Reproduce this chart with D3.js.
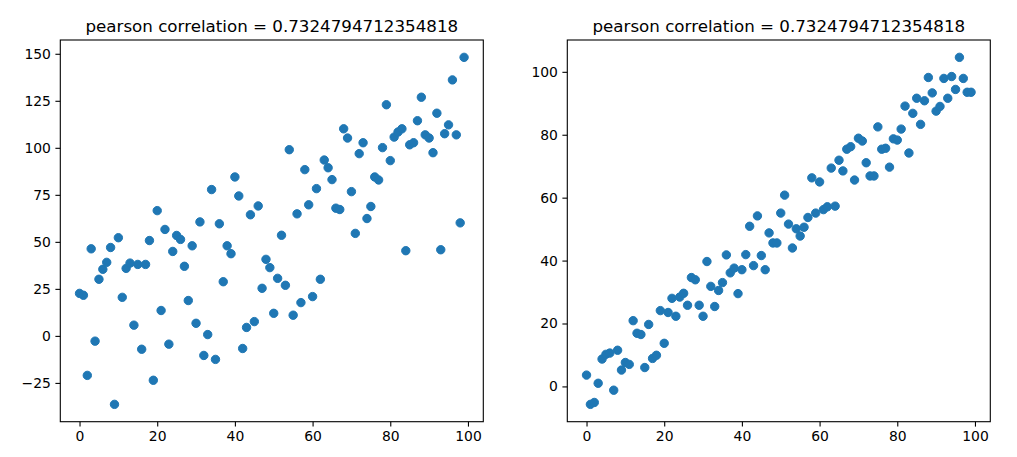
<!DOCTYPE html>
<html><head><meta charset="utf-8">
<script src="https://cdn.jsdelivr.net/npm/d3@7"></script>
<style>
html,body{margin:0;padding:0;background:#fff;}
svg text{font-family:"DejaVu Sans",sans-serif;fill:#000;}
</style></head>
<body><svg id="c" width="1017" height="457"></svg>
<script>
const xValues = d3.range(100);
const leftY = [22.6,21.6,-21.0,46.3,-2.8,30.1,35.4,39.1,47.0,-36.4,
52.2,20.5,35.9,38.7,5.7,38.0,-7.1,38.0,50.7,-23.6,
66.6,13.5,56.6,-4.4,44.9,53.4,51.3,37.0,18.8,47.9,
6.7,60.6,-10.4,0.7,77.8,-12.5,59.6,28.8,47.9,43.7,
84.5,74.4,-6.7,4.5,64.4,7.6,69.1,25.3,40.7,36.3,
12.0,30.6,53.5,26.9,99.0,11.0,64.9,17.7,88.4,69.7,
20.9,78.3,30.1,93.5,89.4,83.1,67.9,67.2,110.1,105.2,
76.7,54.5,96.9,102.7,62.4,68.8,84.5,82.9,100.1,122.9,
93.2,105.7,108.4,110.1,45.3,101.6,102.7,114.4,126.9,106.9,
105.2,97.4,118.4,45.8,107.5,112.2,136.1,106.9,60.1,148.1];
const rightY = [3.6,-5.7,-5.1,1.0,8.7,10.2,10.6,-1.2,11.5,5.2,
7.6,7.0,20.9,16.9,16.5,6.0,19.7,8.9,9.9,24.1,
13.7,23.5,28.0,22.3,28.4,29.6,25.8,34.6,33.9,25.8,
22.3,39.7,31.8,25.4,30.5,33.0,41.8,36.1,37.6,29.5,
37.1,41.9,50.9,38.4,54.2,41.6,37.1,48.8,45.6,45.6,
55.1,60.8,51.6,44.0,50.1,47.8,50.6,53.7,66.3,55.1,
65.0,56.2,57.1,69.4,57.3,71.9,68.5,75.4,76.2,65.6,
78.9,78.0,71.1,66.9,66.9,82.5,75.4,75.7,69.7,78.7,
78.3,81.8,89.1,74.2,86.8,91.6,83.3,90.8,98.2,93.3,
87.5,89.0,97.9,91.6,98.5,94.4,104.6,97.9,93.5,93.5];
const titles = ["pearson correlation = 0.7324794712354818","pearson correlation = 0.7324794712354818"];
const xTicks = [0,20,40,60,80,100];
const leftYTicks = [-25,0,25,50,75,100,125,150];
const rightYTicks = [0,20,40,60,80,100];

const svg = d3.select("#c");
const color = "#1f77b4";
const plotTop = 40, plotBottom = 421.7;
const fmt = v => (v < 0 ? "\u2212" + Math.abs(v) : String(v));

function pad(ext){ const r = ext[1]-ext[0]; return [ext[0]-0.05*r, ext[1]+0.05*r]; }

function panel(x0, x1, ys, yTicks, title){
  const g = svg.append("g");
  const x = d3.scaleLinear().domain(pad(d3.extent(xValues))).range([x0, x1]);
  const y = d3.scaleLinear().domain(pad(d3.extent(ys))).range([plotBottom, plotTop]);
  g.selectAll("circle").data(xValues).join("circle")
    .attr("cx", d => x(d)).attr("cy", (d,i) => y(ys[i]))
    .attr("r", 4.2).attr("fill", color).attr("stroke", color).attr("stroke-width", 1);
  const xa = g.append("g").attr("transform", `translate(0,${plotBottom})`)
    .call(d3.axisBottom(x).tickValues(xTicks).tickSize(4.9).tickPadding(4.5).tickFormat(fmt));
  const ya = g.append("g").attr("transform", `translate(${x0},0)`)
    .call(d3.axisLeft(y).tickValues(yTicks).tickSize(4.9).tickPadding(4.5).tickFormat(fmt));
  [xa, ya].forEach(a => {
    a.select(".domain").remove();
    a.selectAll("line").attr("stroke", "#000").attr("stroke-width", 1.1);
    a.selectAll("text").attr("font-size", "13.9px").attr("font-family", "DejaVu Sans").attr("fill", "#000");
  });
  g.append("rect").attr("x", x0).attr("y", plotTop).attr("width", x1 - x0).attr("height", plotBottom - plotTop)
    .attr("fill", "none").attr("stroke", "#000").attr("stroke-width", 1.1);
  g.append("text").attr("x", (x0 + x1) / 2).attr("y", plotTop - 8.3)
    .attr("text-anchor", "middle").attr("font-size", "16.7px").text(title);
}
panel(60.3, 483.3, leftY, leftYTicks, titles[0]);
panel(567.3, 990.3, rightY, rightYTicks, titles[1]);
</script></body></html>
